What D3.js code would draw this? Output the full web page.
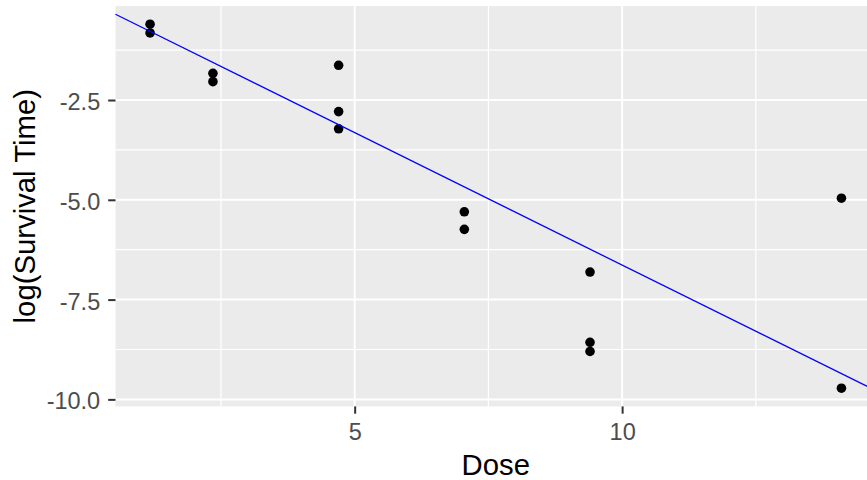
<!DOCTYPE html>
<html>
<head>
<meta charset="utf-8">
<script src="https://cdn.jsdelivr.net/npm/d3@7"></script>
<style>
  body { margin: 0; background: #fff; }
  text { font-family: "Liberation Sans", Arial, sans-serif; }
</style>
</head>
<body>
<div id="chart"></div>
<script>
const dose = [1.175, 1.175, 2.35, 2.35, 4.70, 4.70, 4.70, 7.05, 7.05, 9.40, 9.40, 9.40, 14.10, 14.10];
const logSurvival = [-0.82, -0.60, -1.83, -2.04, -3.22, -1.63, -2.79, -5.30, -5.74, -6.81, -8.80, -8.57, -4.96, -9.72];

const xMajor = [5, 10];
const xMinor = [2.5, 7.5, 12.5];
const yMajor = [-10, -7.5, -5, -2.5];
const yMinor = [-8.75, -6.25, -3.75, -1.25];

const width = 867,
    height = 480,
    margin = {top: 6, right: -9, bottom: 73.6, left: 115.5};

const points = dose.map((d, i) => ({x: d, y: logSurvival[i]}));

// ggplot style 5% expansion of the data range
function expand(ext) {
    let pad = (ext[1] - ext[0]) * 0.05;
    return [ext[0] - pad, ext[1] + pad];
}

let x = d3.scaleLinear()
    .domain(expand(d3.extent(dose)))
    .range([margin.left, width - margin.right]);

let y = d3.scaleLinear()
    .domain(expand(d3.extent(logSurvival)))
    .range([height - margin.bottom, margin.top]);

// regression through the origin
const slope = d3.sum(points, d => d.x * d.y) / d3.sum(points, d => d.x * d.x);

let svg = d3.select("#chart").append("svg")
    .attr("width", width)
    .attr("height", height);

svg.append("rect")
    .attr("x", x.range()[0])
    .attr("y", y.range()[1])
    .attr("width", x.range()[1] - x.range()[0])
    .attr("height", y.range()[0] - y.range()[1])
    .attr("fill", "#ebebeb");

let grid = svg.append("g").attr("stroke", "#fff");

grid.selectAll(".yminor").data(yMinor).join("line")
    .attr("x1", x.range()[0]).attr("x2", x.range()[1])
    .attr("y1", d => y(d)).attr("y2", d => y(d))
    .attr("stroke-width", 1.2);

grid.selectAll(".xminor").data(xMinor).join("line")
    .attr("y1", y.range()[0]).attr("y2", y.range()[1])
    .attr("x1", d => x(d)).attr("x2", d => x(d))
    .attr("stroke-width", 1.2);

grid.selectAll(".ymajor").data(yMajor).join("line")
    .attr("x1", x.range()[0]).attr("x2", x.range()[1])
    .attr("y1", d => y(d)).attr("y2", d => y(d))
    .attr("stroke-width", 2);

grid.selectAll(".xmajor").data(xMajor).join("line")
    .attr("y1", y.range()[0]).attr("y2", y.range()[1])
    .attr("x1", d => x(d)).attr("x2", d => x(d))
    .attr("stroke-width", 2);

svg.append("g").selectAll("circle").data(points).join("circle")
    .attr("cx", d => x(d.x))
    .attr("cy", d => y(d.y))
    .attr("r", 4.8)
    .attr("fill", "#000");

let xd = x.domain();
svg.append("line")
    .attr("x1", x(xd[0])).attr("y1", y(slope * xd[0]))
    .attr("x2", x(xd[1])).attr("y2", y(slope * xd[1]))
    .attr("stroke", "#0000ff")
    .attr("stroke-width", 1.3);

// axes
let xAxis = svg.append("g")
    .attr("transform", `translate(0,${y.range()[0]})`)
    .call(d3.axisBottom(x).tickValues(xMajor).tickSize(7.3).tickPadding(9));

let yAxis = svg.append("g")
    .attr("transform", `translate(${x.range()[0]},0)`)
    .call(d3.axisLeft(y).tickValues(yMajor).tickFormat(d => d.toFixed(1)).tickSize(7.3).tickPadding(8));

[xAxis, yAxis].forEach(ax => {
    ax.select(".domain").remove();
    ax.selectAll(".tick line").attr("stroke", "#333333").attr("stroke-width", 2);
    ax.selectAll(".tick text")
        .attr("fill", "#4d4d4d")
        .style("font-size", "23.5px")
        .style("font-family", "'Liberation Sans', Arial, sans-serif");
});

yAxis.selectAll(".tick text").attr("dy", "0.4em");
xAxis.selectAll(".tick text").attr("dy", "0.75em");

svg.append("text")
    .attr("x", (x.range()[0] + x.range()[1]) / 2)
    .attr("y", 475)
    .attr("text-anchor", "middle")
    .style("font-size", "29.3px")
    .text("Dose");

svg.append("text")
    .attr("transform", `translate(35,${(y.range()[0] + y.range()[1]) / 2}) rotate(-90)`)
    .attr("text-anchor", "middle")
    .style("font-size", "29.3px")
    .text("log(Survival Time)");
</script>
</body>
</html>
